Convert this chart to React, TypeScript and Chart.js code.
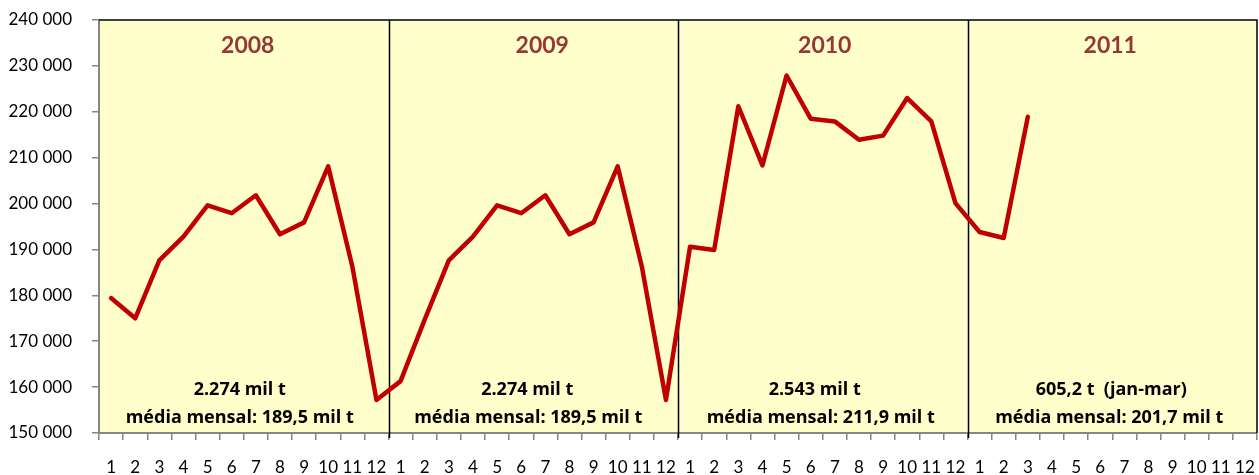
import React, { useEffect, useRef } from "react";
import { Chart, registerables } from "chart.js";

Chart.register(...registerables);

const months = ["1", "2", "3", "4", "5", "6", "7", "8", "9", "10", "11", "12"];
const years = ["2008", "2009", "2010", "2011"];

const values2008 = [179400, 175000, 187600, 192800, 199600, 197900, 201800, 193300, 195900, 208100, 186300, 157200];
const values2009 = [161300, 174700, 187600, 192800, 199600, 197900, 201800, 193300, 195900, 208100, 186300, 157200];
const values2010 = [190600, 189900, 221200, 208300, 227900, 218500, 217900, 213900, 214800, 223000, 217900, 200100];
const values2011 = [193800, 192500, 218900];

const totals = ["2.274 mil t", "2.274 mil t", "2.543 mil t", "605,2 t  (jan-mar)"];
const averages = [
  "média mensal: 189,5 mil t",
  "média mensal: 189,5 mil t",
  "média mensal: 211,9 mil t",
  "média mensal: 201,7 mil t",
];

const yMin = 150000;
const yMax = 240000;
const yStep = 10000;

const FONT = "Lato, 'Open Sans', sans-serif";
const NOTE_FONT = "'Open Sans', Lato, sans-serif";

export default function App() {
  const canvasRef = useRef<HTMLCanvasElement | null>(null);

  useEffect(() => {
    const canvas = canvasRef.current;
    if (!canvas) return;

    const labels: string[] = [];
    years.forEach(() => months.forEach((m) => labels.push(m)));

    const series: (number | null)[] = [];
    [values2008, values2009, values2010, values2011].forEach((arr) => {
      for (let i = 0; i < months.length; i++) {
        series.push(i < arr.length ? arr[i] : null);
      }
    });

    const yearDx = [4, 9, 2, -2];
    const totalDx = [-4, -6, -8, -1];
    const avgDx = [-4, -5, -2, -3];

    const decor = {
      id: "decor",
      beforeDraw(chart: any) {
        const { ctx, chartArea } = chart;
        ctx.save();
        ctx.fillStyle = "#FFFFCC";
        ctx.fillRect(chartArea.left, chartArea.top, chartArea.right - chartArea.left, chartArea.bottom - chartArea.top);
        ctx.restore();
      },
      beforeDatasetsDraw(chart: any) {
        const { ctx, chartArea } = chart;
        const xs = chart.scales.x;
        const n = months.length;
        const boundary = (k: number) => {
          if (k <= 0) return chartArea.left;
          if (k >= labels.length) return chartArea.right;
          return (xs.getPixelForValue(k - 1) + xs.getPixelForValue(k)) / 2;
        };
        ctx.save();
        ctx.strokeStyle = "#000000";
        ctx.lineWidth = 1.5;
        ctx.beginPath();
        ctx.moveTo(chartArea.left, chartArea.top);
        ctx.lineTo(chartArea.right, chartArea.top);
        ctx.lineTo(chartArea.right, chartArea.bottom);
        ctx.stroke();
        for (let y = 1; y < years.length; y++) {
          const x = Math.round(boundary(y * n)) + 0.5;
          ctx.beginPath();
          ctx.moveTo(x, chartArea.top);
          ctx.lineTo(x, chartArea.bottom + 5);
          ctx.stroke();
        }
        ctx.textAlign = "center";
        ctx.textBaseline = "middle";
        years.forEach((yr, i) => {
          const cx = (boundary(i * n) + boundary((i + 1) * n)) / 2;
          ctx.fillStyle = "#953735";
          ctx.font = `bold 23px ${FONT}`;
          ctx.fillText(yr, cx + yearDx[i], chartArea.top + 26);
          ctx.fillStyle = "#000000";
          ctx.font = `bold 18px ${NOTE_FONT}`;
          ctx.fillText(totals[i], cx + totalDx[i], chartArea.bottom - 43);
          ctx.fillText(averages[i], cx + avgDx[i], chartArea.bottom - 15);
        });
        ctx.restore();
      },
    };

    const chart = new Chart(canvas, {
      type: "line",
      data: {
        labels,
        datasets: [
          {
            data: series,
            borderColor: "#C00000",
            borderWidth: 4.5,
            pointRadius: 0,
            pointHoverRadius: 0,
            tension: 0,
            spanGaps: false,
            borderJoinStyle: "round",
            borderCapStyle: "round",
          },
        ],
      },
      options: {
        animation: false,
        responsive: false,
        maintainAspectRatio: false,
        layout: { padding: { left: 0, right: 2, top: 20, bottom: 0 } },
        plugins: {
          legend: { display: false },
          tooltip: { enabled: false },
        },
        scales: {
          x: {
            type: "category",
            offset: true,
            grid: {
              offset: true,
              drawOnChartArea: false,
              drawTicks: true,
              tickLength: 7,
              color: "#868686",
              lineWidth: 1.5,
            },
            border: { display: true, color: "#868686", width: 2 },
            ticks: {
              autoSkip: false,
              maxRotation: 0,
              padding: 17,
              color: "#000000",
              font: { family: FONT, size: 17 },
            },
            afterFit(scale: any) {
              scale.height = 42;
              scale.paddingLeft = 0;
              scale.paddingRight = 0;
            },
          },
          y: {
            min: yMin,
            max: yMax,
            grid: {
              drawOnChartArea: false,
              drawTicks: true,
              tickLength: 7,
              color: "#868686",
              lineWidth: 1.5,
            },
            border: { display: true, color: "#868686", width: 2 },
            ticks: {
              stepSize: yStep,
              padding: 20,
              color: "#000000",
              font: { family: FONT, size: 17 },
              callback: (v: any) => {
                const s = String(Math.round(Number(v)));
                return s.replace(/\B(?=(\d{3})+(?!\d))/g, " ");
              },
            },
            afterFit(scale: any) {
              scale.width = 99;
              scale.paddingTop = 0;
              scale.paddingBottom = 0;
            },
          },
        },
      },
      plugins: [decor],
    });

    return () => chart.destroy();
  }, []);

  return (
    <div style={{ position: "fixed", left: 0, top: 0, width: 1259, height: 475, background: "#ffffff" }}>
      <canvas ref={canvasRef} width={1259} height={475} style={{ width: 1259, height: 475, display: "block" }} />
    </div>
  );
}
